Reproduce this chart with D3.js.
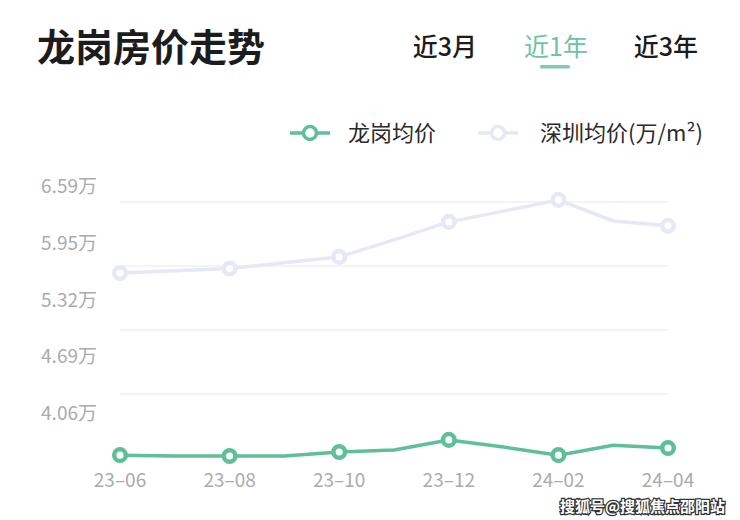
<!DOCTYPE html>
<html>
<head>
<meta charset="utf-8">
<script src="https://cdn.jsdelivr.net/npm/d3@7"></script>
<style>
  body { margin: 0; background: #fff; }
  svg { display: block; font-family: "Noto Sans CJK SC", "Noto Sans", sans-serif; }
</style>
</head>
<body>
<div id="chart"></div>
<script>
// months on the x axis (monthly data, markers every other month)
const months = ['23-06', '23-07', '23-08', '23-09', '23-10', '23-11', '23-12', '24-01', '24-02', '24-03', '24-04'];
const tickMonths = ['23-06', '23-08', '23-10', '23-12', '24-02', '24-04'];
// prices in 万/m²
const longgang = [3.59, 3.58, 3.58, 3.58, 3.625, 3.647, 3.76, 3.68, 3.59, 3.70, 3.67];
const shenzhen = [5.62, 5.646, 5.67, 5.735, 5.80, 5.99, 6.19, 6.31, 6.435, 6.20, 6.146];
const yTicks = [6.59, 5.95, 5.32, 4.69, 4.06];
const tabs = ['近3月', '近1年', '近3年'];
const seriesNames = ['龙岗均价', '深圳均价(万/m²)'];

const width = 740, height = 520;
const green = '#5fbf98';
const lavender = '#e6e8f5';

const svg = d3.select('#chart').append('svg')
  .attr('width', width).attr('height', height);
svg.append('rect').attr('width', width).attr('height', height).attr('fill', '#fff');

// title + tabs
svg.append('text').attr('x', 37).attr('y', 61)
  .attr('font-size', 38).attr('font-weight', 700).attr('fill', '#1c1c1c')
  .text('龙岗房价走势');

const tabX = [445, 556, 666];
tabs.forEach((t, i) => {
  svg.append('text').attr('x', tabX[i]).attr('y', 56)
    .attr('text-anchor', 'middle').attr('font-size', 25)
    .attr('font-weight', i === 1 ? 400 : 500)
    .attr('fill', i === 1 ? '#6cc4a0' : '#1c1c1c')
    .text(t);
});
svg.append('rect').attr('x', 540).attr('y', 65).attr('width', 30).attr('height', 3.5)
  .attr('rx', 1.5).attr('fill', '#7fcbab');

// legend
const legendX = [290, 478];
const legendColors = [green, lavender];
seriesNames.forEach((name, i) => {
  const g = svg.append('g').attr('transform', `translate(${legendX[i]},133)`);
  g.append('line').attr('x1', 0).attr('x2', 40).attr('stroke', legendColors[i]).attr('stroke-width', 3.5);
  g.append('circle').attr('cx', 20).attr('r', 6.5).attr('fill', '#fff')
    .attr('stroke', legendColors[i]).attr('stroke-width', 3.5);
  g.append('text').attr('x', i === 0 ? 58 : 62).attr('y', 8)
    .attr('font-size', 22).attr('fill', '#2a2a2a').text(name);
});

// scales
const x = d3.scalePoint().domain(months).range([120, 668]);
const y = d3.scaleLinear().domain([4.06, 6.59]).range([413, 186]);

// faint horizontal grid, plot area split in four bands
const grid = d3.scaleLinear().domain([0, 4]).range([458, 202]);
svg.append('g').selectAll('line').data([1, 2, 3, 4]).join('line')
  .attr('x1', 120).attr('x2', 668)
  .attr('y1', d => grid(d)).attr('y2', d => grid(d))
  .attr('stroke', '#f1f1f3').attr('stroke-width', 1.5);

// y labels
svg.append('g').selectAll('text').data(yTicks).join('text')
  .attr('x', 97).attr('y', d => y(d))
  .attr('dy', '0.35em').attr('text-anchor', 'end')
  .attr('font-size', 19).attr('fill', '#ababab')
  .text(d => d.toFixed(2) + '万');

// x labels
svg.append('g').selectAll('text').data(tickMonths).join('text')
  .attr('x', d => x(d)).attr('y', 487)
  .attr('text-anchor', 'middle').attr('font-size', 19).attr('fill', '#ababab')
  .text(d => d.replace('-', '–'));

const line = d3.line().x((d, i) => x(months[i])).y(d => y(d));

function drawSeries(values, color) {
  svg.append('path').datum(values)
    .attr('d', line).attr('fill', 'none')
    .attr('stroke', color).attr('stroke-width', 3.5)
    .attr('stroke-linejoin', 'round').attr('stroke-linecap', 'round');
  svg.append('g').selectAll('circle')
    .data(values.map((v, i) => ({ m: months[i], v })).filter(d => tickMonths.includes(d.m)))
    .join('circle')
    .attr('cx', d => x(d.m)).attr('cy', d => y(d.v)).attr('r', 5.8)
    .attr('fill', '#fff').attr('stroke', color).attr('stroke-width', 4.5);
}
drawSeries(shenzhen, lavender);
drawSeries(longgang, green);

// watermark
svg.append('text').attr('x', 725).attr('y', 512).attr('text-anchor', 'end')
  .attr('font-size', 15).attr('font-weight', 700)
  .attr('fill', '#fff').attr('stroke', '#333').attr('stroke-width', 2.5)
  .attr('paint-order', 'stroke')
  .text('搜狐号@搜狐焦点邵阳站');
</script>
</body>
</html>
